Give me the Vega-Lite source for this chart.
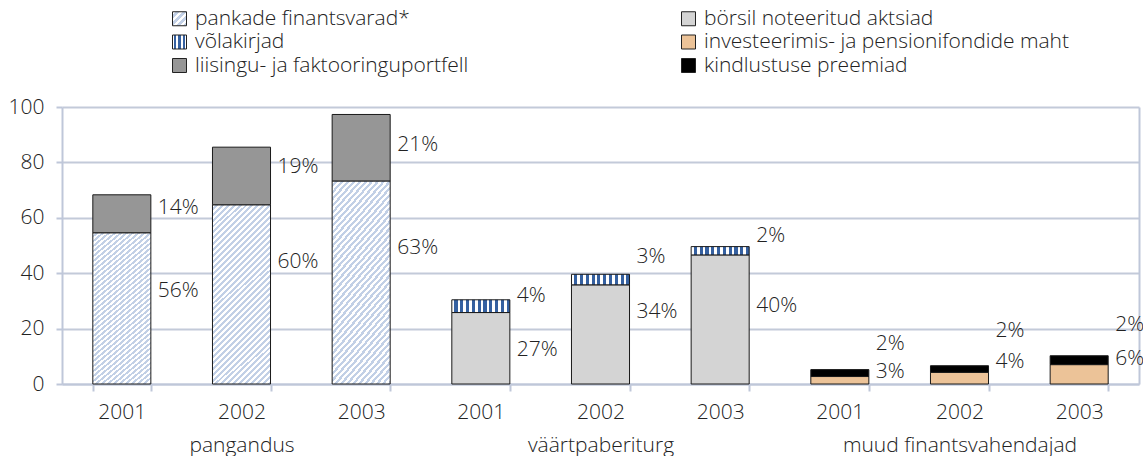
{
  "$schema": "https://vega.github.io/schema/vega-lite/v6.json",
  "width": 1077,
  "height": 277,
  "autosize": {"type": "none"},
  "padding": {"left": 62, "top": 107, "right": 4, "bottom": 72},
  "background": "white",
  "config": {
    "font": "Open Sans",
    "view": {"stroke": null},
    "axis": {"labelFont": "Open Sans", "labelFontSize": 21, "labelFontWeight": 300, "labelColor": "#222222"},
    "legend": {"labelFont": "Open Sans"}
  },
  "params": [
    {"name": "lgHatch", "value": {"gradient": "linear", "x1": 0, "y1": 0, "x2": 1, "y2": 1, "stops": [
      {"offset": 0, "color": "#ffffff"}, {"offset": 0.125, "color": "#ffffff"}, {"offset": 0.125, "color": "#c2d0e6"}, {"offset": 0.25, "color": "#c2d0e6"},
      {"offset": 0.25, "color": "#ffffff"}, {"offset": 0.375, "color": "#ffffff"}, {"offset": 0.375, "color": "#c2d0e6"}, {"offset": 0.5, "color": "#c2d0e6"},
      {"offset": 0.5, "color": "#ffffff"}, {"offset": 0.625, "color": "#ffffff"}, {"offset": 0.625, "color": "#c2d0e6"}, {"offset": 0.75, "color": "#c2d0e6"},
      {"offset": 0.75, "color": "#ffffff"}, {"offset": 0.875, "color": "#ffffff"}, {"offset": 0.875, "color": "#c2d0e6"}, {"offset": 1, "color": "#c2d0e6"}
    ]}},
    {"name": "lgStripe", "value": {"gradient": "linear", "x1": 0, "y1": 0, "x2": 1, "y2": 0, "stops": [
      {"offset": 0, "color": "#ffffff"}, {"offset": 0.12, "color": "#ffffff"}, {"offset": 0.12, "color": "#3560a0"}, {"offset": 0.28, "color": "#3560a0"},
      {"offset": 0.28, "color": "#ffffff"}, {"offset": 0.42, "color": "#ffffff"}, {"offset": 0.42, "color": "#3560a0"}, {"offset": 0.58, "color": "#3560a0"},
      {"offset": 0.58, "color": "#ffffff"}, {"offset": 0.72, "color": "#ffffff"}, {"offset": 0.72, "color": "#3560a0"}, {"offset": 0.88, "color": "#3560a0"},
      {"offset": 0.88, "color": "#ffffff"}, {"offset": 1, "color": "#ffffff"}
    ]}}
  ],
  "data": {"values": [
    {"col": "2001 pangandus", "series": "pankade finantsvarad*", "part": 1, "value": 54.6, "label": "56%", "labelY": 33.4},
    {"col": "2001 pangandus", "series": "liisingu- ja faktooringuportfell", "part": 2, "value": 13.7, "label": "14%", "labelY": 63.5},
    {"col": "2002 pangandus", "series": "pankade finantsvarad*", "part": 1, "value": 64.7, "label": "60%", "labelY": 44.0},
    {"col": "2002 pangandus", "series": "liisingu- ja faktooringuportfell", "part": 2, "value": 20.8, "label": "19%", "labelY": 78.4},
    {"col": "2003 pangandus", "series": "pankade finantsvarad*", "part": 1, "value": 73.3, "label": "63%", "labelY": 49.0},
    {"col": "2003 pangandus", "series": "liisingu- ja faktooringuportfell", "part": 2, "value": 24.0, "label": "21%", "labelY": 86.2},
    {"col": "2001 väärtpaberiturg", "series": "börsil noteeritud aktsiad", "part": 1, "value": 25.8, "label": "27%", "labelY": 12.1},
    {"col": "2001 väärtpaberiturg", "series": "võlakirjad", "part": 2, "value": 4.6, "label": "4%", "labelY": 31.6},
    {"col": "2002 väärtpaberiturg", "series": "börsil noteeritud aktsiad", "part": 1, "value": 35.8, "label": "34%", "labelY": 25.9},
    {"col": "2002 väärtpaberiturg", "series": "võlakirjad", "part": 2, "value": 3.8, "label": "3%", "labelY": 46.0},
    {"col": "2003 väärtpaberiturg", "series": "börsil noteeritud aktsiad", "part": 1, "value": 46.6, "label": "40%", "labelY": 28.0},
    {"col": "2003 väärtpaberiturg", "series": "võlakirjad", "part": 2, "value": 3.0, "label": "2%", "labelY": 53.4},
    {"col": "2001 muud finantsvahendajad", "series": "investeerimis- ja pensionifondide maht", "part": 1, "value": 2.7, "label": "3%", "labelY": 4.2},
    {"col": "2001 muud finantsvahendajad", "series": "kindlustuse preemiad", "part": 2, "value": 2.5, "label": "2%", "labelY": 14.4},
    {"col": "2002 muud finantsvahendajad", "series": "investeerimis- ja pensionifondide maht", "part": 1, "value": 4.2, "label": "4%", "labelY": 8.1},
    {"col": "2002 muud finantsvahendajad", "series": "kindlustuse preemiad", "part": 2, "value": 2.4, "label": "2%", "labelY": 19.2},
    {"col": "2003 muud finantsvahendajad", "series": "investeerimis- ja pensionifondide maht", "part": 1, "value": 7.0, "label": "6%", "labelY": 9.0},
    {"col": "2003 muud finantsvahendajad", "series": "kindlustuse preemiad", "part": 2, "value": 3.2, "label": "2%", "labelY": 21.4}
  ]},
  "resolve": {"axis": {"y": "independent"}},
  "layer": [
    {
      "mark": {"type": "bar", "stroke": "#1a1a1a", "strokeWidth": 1},
      "encoding": {
        "x": {
          "field": "col", "type": "nominal",
          "scale": {"domain": ["2001 pangandus", "2002 pangandus", "2003 pangandus", "2001 väärtpaberiturg", "2002 väärtpaberiturg", "2003 väärtpaberiturg", "2001 muud finantsvahendajad", "2002 muud finantsvahendajad", "2003 muud finantsvahendajad"], "paddingInner": 0.515, "paddingOuter": 0.2575},
          "axis": {
            "title": null, "labelAngle": 0, "labelBaseline": "top", "labelPadding": 10, "labelLineHeight": 33, "labelLimit": 400,
            "labelExpr": "datum.value ? (substring(datum.value,0,4) == '2002' ? [substring(datum.value,0,4), substring(datum.value,5)] : substring(datum.value,0,4)) : ''",
            "domainColor": "#bfc7d9", "domainWidth": 2, "tickColor": "#bfc7d9", "tickWidth": 2, "tickSize": 7, "tickBand": "extent", "grid": false
          }
        },
        "y": {
          "field": "value", "type": "quantitative", "stack": "zero",
          "scale": {"domain": [0, 100], "nice": false},
          "axis": {"title": null, "values": [0, 20, 40, 60, 80, 100], "grid": true, "gridColor": "#c3cad9", "gridWidth": 2, "domainColor": "#bfc7d9", "domainWidth": 2, "tickColor": "#bfc7d9", "tickWidth": 2, "tickSize": 6, "labelPadding": 12}
        },
        "order": {"field": "part", "type": "quantitative"},
        "fill": {
          "field": "series", "type": "nominal",
          "scale": {
            "domain": ["pankade finantsvarad*", "börsil noteeritud aktsiad", "võlakirjad", "investeerimis- ja pensionifondide maht", "liisingu- ja faktooringuportfell", "kindlustuse preemiad"],
            "range": [{"expr": "lgHatch"}, "#d4d4d4", {"expr": "lgStripe"}, "#ecc398", "#969696", "#000000"]
          },
          "legend": {
            "title": null, "orient": "none", "legendX": 107, "legendY": -99, "direction": "horizontal", "columns": 2,
            "columnPadding": 209, "rowPadding": 1.5, "padding": 0,
            "symbolType": "square", "symbolSize": 196, "symbolStrokeColor": "#222222", "symbolStrokeWidth": 1,
            "labelFontSize": 21, "labelFontWeight": 300, "labelColor": "#222222", "labelOffset": 5, "labelLimit": 500
          },
          "condition": [
            {"test": "datum.series === 'pankade finantsvarad*'", "value": {"gradient": "linear", "x1": 0, "y1": 0, "x2": 0.386, "y2": 1.198, "stops": [
              {"offset": 0, "color": "#ffffff"}, {"offset": 0.0125, "color": "#ffffff"}, {"offset": 0.0125, "color": "#c2d0e6"}, {"offset": 0.025, "color": "#c2d0e6"},
              {"offset": 0.025, "color": "#ffffff"}, {"offset": 0.0375, "color": "#ffffff"}, {"offset": 0.0375, "color": "#c2d0e6"}, {"offset": 0.05, "color": "#c2d0e6"},
              {"offset": 0.05, "color": "#ffffff"}, {"offset": 0.0625, "color": "#ffffff"}, {"offset": 0.0625, "color": "#c2d0e6"}, {"offset": 0.075, "color": "#c2d0e6"},
              {"offset": 0.075, "color": "#ffffff"}, {"offset": 0.0875, "color": "#ffffff"}, {"offset": 0.0875, "color": "#c2d0e6"}, {"offset": 0.1, "color": "#c2d0e6"},
              {"offset": 0.1, "color": "#ffffff"}, {"offset": 0.1125, "color": "#ffffff"}, {"offset": 0.1125, "color": "#c2d0e6"}, {"offset": 0.125, "color": "#c2d0e6"},
              {"offset": 0.125, "color": "#ffffff"}, {"offset": 0.1375, "color": "#ffffff"}, {"offset": 0.1375, "color": "#c2d0e6"}, {"offset": 0.15, "color": "#c2d0e6"},
              {"offset": 0.15, "color": "#ffffff"}, {"offset": 0.1625, "color": "#ffffff"}, {"offset": 0.1625, "color": "#c2d0e6"}, {"offset": 0.175, "color": "#c2d0e6"},
              {"offset": 0.175, "color": "#ffffff"}, {"offset": 0.1875, "color": "#ffffff"}, {"offset": 0.1875, "color": "#c2d0e6"}, {"offset": 0.2, "color": "#c2d0e6"},
              {"offset": 0.2, "color": "#ffffff"}, {"offset": 0.2125, "color": "#ffffff"}, {"offset": 0.2125, "color": "#c2d0e6"}, {"offset": 0.225, "color": "#c2d0e6"},
              {"offset": 0.225, "color": "#ffffff"}, {"offset": 0.2375, "color": "#ffffff"}, {"offset": 0.2375, "color": "#c2d0e6"}, {"offset": 0.25, "color": "#c2d0e6"},
              {"offset": 0.25, "color": "#ffffff"}, {"offset": 0.2625, "color": "#ffffff"}, {"offset": 0.2625, "color": "#c2d0e6"}, {"offset": 0.275, "color": "#c2d0e6"},
              {"offset": 0.275, "color": "#ffffff"}, {"offset": 0.2875, "color": "#ffffff"}, {"offset": 0.2875, "color": "#c2d0e6"}, {"offset": 0.3, "color": "#c2d0e6"},
              {"offset": 0.3, "color": "#ffffff"}, {"offset": 0.3125, "color": "#ffffff"}, {"offset": 0.3125, "color": "#c2d0e6"}, {"offset": 0.325, "color": "#c2d0e6"},
              {"offset": 0.325, "color": "#ffffff"}, {"offset": 0.3375, "color": "#ffffff"}, {"offset": 0.3375, "color": "#c2d0e6"}, {"offset": 0.35, "color": "#c2d0e6"},
              {"offset": 0.35, "color": "#ffffff"}, {"offset": 0.3625, "color": "#ffffff"}, {"offset": 0.3625, "color": "#c2d0e6"}, {"offset": 0.375, "color": "#c2d0e6"},
              {"offset": 0.375, "color": "#ffffff"}, {"offset": 0.3875, "color": "#ffffff"}, {"offset": 0.3875, "color": "#c2d0e6"}, {"offset": 0.4, "color": "#c2d0e6"},
              {"offset": 0.4, "color": "#ffffff"}, {"offset": 0.4125, "color": "#ffffff"}, {"offset": 0.4125, "color": "#c2d0e6"}, {"offset": 0.425, "color": "#c2d0e6"},
              {"offset": 0.425, "color": "#ffffff"}, {"offset": 0.4375, "color": "#ffffff"}, {"offset": 0.4375, "color": "#c2d0e6"}, {"offset": 0.45, "color": "#c2d0e6"},
              {"offset": 0.45, "color": "#ffffff"}, {"offset": 0.4625, "color": "#ffffff"}, {"offset": 0.4625, "color": "#c2d0e6"}, {"offset": 0.475, "color": "#c2d0e6"},
              {"offset": 0.475, "color": "#ffffff"}, {"offset": 0.4875, "color": "#ffffff"}, {"offset": 0.4875, "color": "#c2d0e6"}, {"offset": 0.5, "color": "#c2d0e6"},
              {"offset": 0.5, "color": "#ffffff"}, {"offset": 0.5125, "color": "#ffffff"}, {"offset": 0.5125, "color": "#c2d0e6"}, {"offset": 0.525, "color": "#c2d0e6"},
              {"offset": 0.525, "color": "#ffffff"}, {"offset": 0.5375, "color": "#ffffff"}, {"offset": 0.5375, "color": "#c2d0e6"}, {"offset": 0.55, "color": "#c2d0e6"},
              {"offset": 0.55, "color": "#ffffff"}, {"offset": 0.5625, "color": "#ffffff"}, {"offset": 0.5625, "color": "#c2d0e6"}, {"offset": 0.575, "color": "#c2d0e6"},
              {"offset": 0.575, "color": "#ffffff"}, {"offset": 0.5875, "color": "#ffffff"}, {"offset": 0.5875, "color": "#c2d0e6"}, {"offset": 0.6, "color": "#c2d0e6"},
              {"offset": 0.6, "color": "#ffffff"}, {"offset": 0.6125, "color": "#ffffff"}, {"offset": 0.6125, "color": "#c2d0e6"}, {"offset": 0.625, "color": "#c2d0e6"},
              {"offset": 0.625, "color": "#ffffff"}, {"offset": 0.6375, "color": "#ffffff"}, {"offset": 0.6375, "color": "#c2d0e6"}, {"offset": 0.65, "color": "#c2d0e6"},
              {"offset": 0.65, "color": "#ffffff"}, {"offset": 0.6625, "color": "#ffffff"}, {"offset": 0.6625, "color": "#c2d0e6"}, {"offset": 0.675, "color": "#c2d0e6"},
              {"offset": 0.675, "color": "#ffffff"}, {"offset": 0.6875, "color": "#ffffff"}, {"offset": 0.6875, "color": "#c2d0e6"}, {"offset": 0.7, "color": "#c2d0e6"},
              {"offset": 0.7, "color": "#ffffff"}, {"offset": 0.7125, "color": "#ffffff"}, {"offset": 0.7125, "color": "#c2d0e6"}, {"offset": 0.725, "color": "#c2d0e6"},
              {"offset": 0.725, "color": "#ffffff"}, {"offset": 0.7375, "color": "#ffffff"}, {"offset": 0.7375, "color": "#c2d0e6"}, {"offset": 0.75, "color": "#c2d0e6"},
              {"offset": 0.75, "color": "#ffffff"}, {"offset": 0.7625, "color": "#ffffff"}, {"offset": 0.7625, "color": "#c2d0e6"}, {"offset": 0.775, "color": "#c2d0e6"},
              {"offset": 0.775, "color": "#ffffff"}, {"offset": 0.7875, "color": "#ffffff"}, {"offset": 0.7875, "color": "#c2d0e6"}, {"offset": 0.8, "color": "#c2d0e6"},
              {"offset": 0.8, "color": "#ffffff"}, {"offset": 0.8125, "color": "#ffffff"}, {"offset": 0.8125, "color": "#c2d0e6"}, {"offset": 0.825, "color": "#c2d0e6"},
              {"offset": 0.825, "color": "#ffffff"}, {"offset": 0.8375, "color": "#ffffff"}, {"offset": 0.8375, "color": "#c2d0e6"}, {"offset": 0.85, "color": "#c2d0e6"},
              {"offset": 0.85, "color": "#ffffff"}, {"offset": 0.8625, "color": "#ffffff"}, {"offset": 0.8625, "color": "#c2d0e6"}, {"offset": 0.875, "color": "#c2d0e6"},
              {"offset": 0.875, "color": "#ffffff"}, {"offset": 0.8875, "color": "#ffffff"}, {"offset": 0.8875, "color": "#c2d0e6"}, {"offset": 0.9, "color": "#c2d0e6"},
              {"offset": 0.9, "color": "#ffffff"}, {"offset": 0.9125, "color": "#ffffff"}, {"offset": 0.9125, "color": "#c2d0e6"}, {"offset": 0.925, "color": "#c2d0e6"},
              {"offset": 0.925, "color": "#ffffff"}, {"offset": 0.9375, "color": "#ffffff"}, {"offset": 0.9375, "color": "#c2d0e6"}, {"offset": 0.95, "color": "#c2d0e6"},
              {"offset": 0.95, "color": "#ffffff"}, {"offset": 0.9625, "color": "#ffffff"}, {"offset": 0.9625, "color": "#c2d0e6"}, {"offset": 0.975, "color": "#c2d0e6"},
              {"offset": 0.975, "color": "#ffffff"}, {"offset": 0.9875, "color": "#ffffff"}, {"offset": 0.9875, "color": "#c2d0e6"}, {"offset": 1, "color": "#c2d0e6"}
            ]}},
            {"test": "datum.series === 'võlakirjad'", "value": {"gradient": "linear", "x1": 0, "y1": 0, "x2": 1, "y2": 0, "stops": [
              {"offset": 0, "color": "#ffffff"}, {"offset": 0.045, "color": "#ffffff"}, {"offset": 0.045, "color": "#3560a0"}, {"offset": 0.1, "color": "#3560a0"},
              {"offset": 0.1, "color": "#ffffff"}, {"offset": 0.145, "color": "#ffffff"}, {"offset": 0.145, "color": "#3560a0"}, {"offset": 0.2, "color": "#3560a0"},
              {"offset": 0.2, "color": "#ffffff"}, {"offset": 0.245, "color": "#ffffff"}, {"offset": 0.245, "color": "#3560a0"}, {"offset": 0.3, "color": "#3560a0"},
              {"offset": 0.3, "color": "#ffffff"}, {"offset": 0.345, "color": "#ffffff"}, {"offset": 0.345, "color": "#3560a0"}, {"offset": 0.4, "color": "#3560a0"},
              {"offset": 0.4, "color": "#ffffff"}, {"offset": 0.445, "color": "#ffffff"}, {"offset": 0.445, "color": "#3560a0"}, {"offset": 0.5, "color": "#3560a0"},
              {"offset": 0.5, "color": "#ffffff"}, {"offset": 0.545, "color": "#ffffff"}, {"offset": 0.545, "color": "#3560a0"}, {"offset": 0.6, "color": "#3560a0"},
              {"offset": 0.6, "color": "#ffffff"}, {"offset": 0.645, "color": "#ffffff"}, {"offset": 0.645, "color": "#3560a0"}, {"offset": 0.7, "color": "#3560a0"},
              {"offset": 0.7, "color": "#ffffff"}, {"offset": 0.745, "color": "#ffffff"}, {"offset": 0.745, "color": "#3560a0"}, {"offset": 0.8, "color": "#3560a0"},
              {"offset": 0.8, "color": "#ffffff"}, {"offset": 0.845, "color": "#ffffff"}, {"offset": 0.845, "color": "#3560a0"}, {"offset": 0.9, "color": "#3560a0"},
              {"offset": 0.9, "color": "#ffffff"}, {"offset": 0.945, "color": "#ffffff"}, {"offset": 0.945, "color": "#3560a0"}, {"offset": 1, "color": "#3560a0"}
            ]}}
          ]
        }
      }
    },
    {
      "mark": {"type": "text", "align": "left", "baseline": "middle", "dx": 36, "fontSize": 21, "fontWeight": 300, "fill": "#222222", "clip": false},
      "encoding": {
        "x": {"field": "col", "type": "nominal", "scale": {"domain": ["2001 pangandus", "2002 pangandus", "2003 pangandus", "2001 väärtpaberiturg", "2002 väärtpaberiturg", "2003 väärtpaberiturg", "2001 muud finantsvahendajad", "2002 muud finantsvahendajad", "2003 muud finantsvahendajad"]}},
        "y": {"field": "labelY", "type": "quantitative", "scale": {"domain": [0, 100], "nice": false},
          "axis": {"orient": "right", "title": null, "labels": false, "ticks": false, "grid": false, "domain": true, "domainColor": "#bfc7d9", "domainWidth": 2}},
        "text": {"field": "label", "type": "nominal"}
      }
    }
  ]
}
